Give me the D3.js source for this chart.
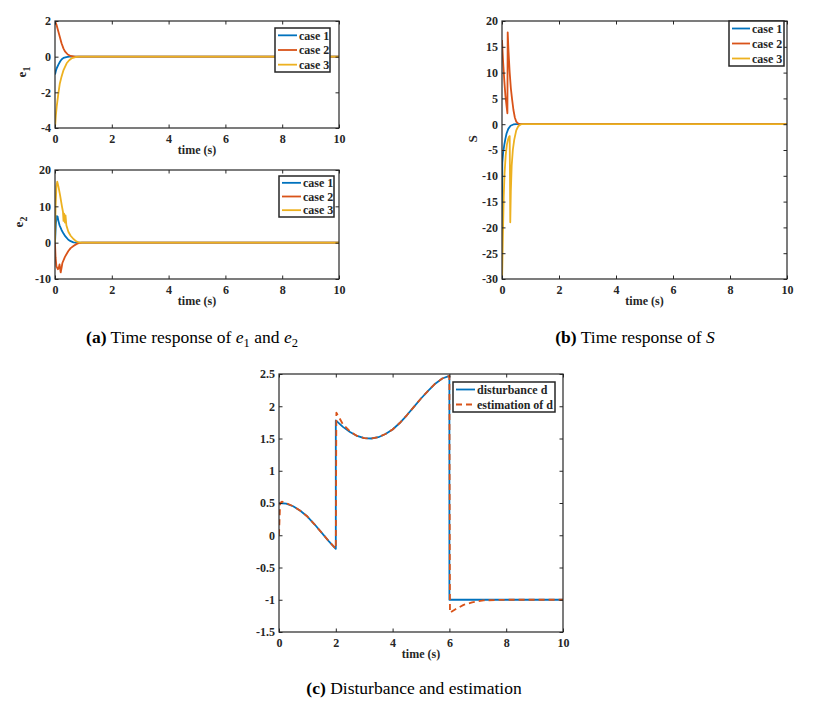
<!DOCTYPE html>
<html><head><meta charset="utf-8">
<script src="https://cdn.jsdelivr.net/npm/d3@7"></script>
<style>body{margin:0;background:#fff}svg{display:block}</style>
</head><body>
<svg id="c" width="813" height="703"></svg>
<script>
// ---------- data ----------
const xTicks = [0, 2, 4, 6, 8, 10];
const e1Ticks = [-4, -2, 0, 2];
const e2Ticks = [-10, 0, 10, 20];
const sTicks = [-30, -25, -20, -15, -10, -5, 0, 5, 10, 15, 20];
const dTicks = [-1.5, -1, -0.5, 0, 0.5, 1, 1.5, 2, 2.5];
const caseNames = ["case 1", "case 2", "case 3"];
const dNames = ["disturbance d", "estimation of d"];

const e1_case1 = [[0,-1],[0.03,-0.8],[0.06,-0.65],[0.12,-0.45],[0.18,-0.27],[0.23,-0.16],[0.3,-0.07],[0.4,-0.02],[0.5,0],[10,0]];
const e1_case2 = [[0,2],[0.05,1.8],[0.12,1.4],[0.18,1.05],[0.23,0.75],[0.3,0.45],[0.35,0.3],[0.45,0.12],[0.55,0.04],[0.7,0],[10,0]];
const e1_case3 = [[0,-4],[0.03,-3.3],[0.06,-2.8],[0.12,-2.05],[0.17,-1.5],[0.23,-1.12],[0.3,-0.75],[0.41,-0.37],[0.5,-0.2],[0.6,-0.08],[0.75,-0.01],[0.85,0],[10,0]];

const e2_case1 = [[0,0],[0.03,5],[0.06,7.3],[0.09,7.2],[0.12,6],[0.16,4.8],[0.23,3.5],[0.3,2.5],[0.36,1.8],[0.47,0.8],[0.55,0.4],[0.65,0.1],[0.75,0],[10,0]];
const e2_case2 = [[0,0],[0.02,-4],[0.05,-6.5],[0.1,-7.3],[0.13,-7],[0.16,-6],[0.2,-8.2],[0.23,-7],[0.26,-5.6],[0.35,-3.9],[0.47,-2.3],[0.55,-1.5],[0.65,-0.9],[0.75,-0.4],[0.85,-0.1],[0.95,0],[10,0]];
const e2_case3 = [[0,0],[0.02,10],[0.05,15.5],[0.08,16.8],[0.12,15.5],[0.18,13],[0.24,10.2],[0.28,8.5],[0.3,6],[0.32,8],[0.35,5.5],[0.37,7.5],[0.4,4.8],[0.47,3],[0.55,1.9],[0.65,1],[0.75,0.35],[0.85,0.05],[0.95,0],[10,0]];

const s_case1 = [[0,-26],[0.01,-7.5],[0.04,-5.5],[0.08,-4],[0.12,-2.8],[0.16,-1.8],[0.22,-0.9],[0.3,-0.3],[0.4,-0.05],[0.5,0],[10,0]];
const s_case2 = [[0,16.3],[0.04,12],[0.08,8.5],[0.12,5.5],[0.16,3.5],[0.19,2.1],[0.2,17.8],[0.23,14],[0.27,10],[0.31,7],[0.35,5],[0.4,2.8],[0.45,1.3],[0.5,0.5],[0.57,0.1],[0.65,0],[10,0]];
const s_case3 = [[0,-31],[0.03,-22],[0.06,-14],[0.09,-9.5],[0.13,-6],[0.17,-4],[0.21,-3],[0.25,-2.4],[0.27,-2.3],[0.29,-19],[0.31,-13],[0.34,-8],[0.38,-5],[0.43,-3],[0.5,-1.2],[0.57,-0.4],[0.65,-0.05],[0.72,0],[10,0]];

const d_true = [[0,0.5],[0.25,0.49],[0.5,0.45],[0.75,0.38],[1,0.29],[1.25,0.17],[1.5,0.04],[1.75,-0.09],[2,-0.21],
  [2,1.78],[2.25,1.68],[2.5,1.6],[2.75,1.54],[3,1.505],[3.25,1.5],[3.5,1.52],[3.75,1.57],[4,1.64],[4.25,1.74],[4.5,1.86],[4.75,1.99],[5,2.12],[5.25,2.24],[5.5,2.35],[5.75,2.43],[6,2.47],
  [6,-1],[10,-1]];
const d_est = [[0,0],[0.04,0.5],[0.1,0.52],[0.25,0.5],[0.5,0.45],[0.75,0.38],[1,0.29],[1.25,0.17],[1.5,0.04],[1.75,-0.09],[2,-0.21],
  [2.02,1.9],[2.1,1.84],[2.25,1.72],[2.5,1.61],[2.75,1.54],[3,1.505],[3.25,1.5],[3.5,1.52],[3.75,1.57],[4,1.64],[4.25,1.74],[4.5,1.86],[4.75,1.99],[5,2.12],[5.25,2.24],[5.5,2.35],[5.75,2.43],[6,2.47],
  [6.02,-1.2],[6.2,-1.15],[6.5,-1.08],[6.8,-1.04],[7.2,-1.01],[8,-1],[10,-1]];

// ---------- style ----------
const C = ["#0072BD", "#D95319", "#EDB120"];
const AX = "#262626";
const FONT = "'Liberation Serif','Times New Roman',serif";
const svg = d3.select("#c");
let clipId = 0;

function panel(o) {
  const x = d3.scaleLinear().domain([0, 10]).range([o.x0, o.x1]);
  const y = d3.scaleLinear().domain(o.ydom).range([o.y1, o.y0]);
  const g = svg.append("g");
  const id = "clip" + (clipId++);
  g.append("clipPath").attr("id", id).append("rect")
    .attr("x", o.x0).attr("y", o.y0).attr("width", o.x1 - o.x0).attr("height", o.y1 - o.y0);
  const line = d3.line().x(d => x(d[0])).y(d => y(d[1]));
  const lg = g.append("g").attr("clip-path", `url(#${id})`);
  o.series.forEach(s => {
    lg.append("path").attr("d", line(s.data)).attr("fill", "none")
      .attr("stroke", s.color).attr("stroke-width", 1.8)
      .attr("stroke-dasharray", s.dash || null).attr("stroke-linejoin", "round");
  });
  const tl = 3.5, fmt = d => String(d);
  const axes = [
    g.append("g").attr("transform", `translate(0,${o.y1})`).call(d3.axisBottom(x).tickValues(xTicks).tickSize(-tl).tickPadding(6).tickFormat(fmt)),
    g.append("g").attr("transform", `translate(0,${o.y0})`).call(d3.axisTop(x).tickValues(xTicks).tickSize(-tl).tickFormat("")),
    g.append("g").attr("transform", `translate(${o.x0},0)`).call(d3.axisLeft(y).tickValues(o.yticks).tickSize(-tl).tickPadding(4).tickFormat(fmt)),
    g.append("g").attr("transform", `translate(${o.x1},0)`).call(d3.axisRight(y).tickValues(o.yticks).tickSize(-tl).tickFormat(""))
  ];
  axes.forEach(a => {
    a.select(".domain").remove();
    a.selectAll(".tick line").attr("stroke", AX).attr("stroke-width", 1);
    a.selectAll(".tick text").attr("fill", AX).style("font-family", FONT)
      .style("font-size", "12px").style("font-weight", "bold");
  });
  g.append("rect").attr("x", o.x0).attr("y", o.y0).attr("width", o.x1 - o.x0).attr("height", o.y1 - o.y0)
    .attr("fill", "none").attr("stroke", AX).attr("stroke-width", 1.2);
  g.append("text").attr("x", (o.x0 + o.x1) / 2).attr("y", o.y1 + 26).attr("text-anchor", "middle")
    .style("font-family", FONT).style("font-size", "12px").style("font-weight", "bold").attr("fill", AX)
    .text("time (s)");
  if (o.ylabel) {
    const t = g.append("text").attr("transform", `translate(${o.ylabel.x},${o.ylabel.y}) rotate(-90)`)
      .attr("text-anchor", "middle").style("font-family", FONT).style("font-size", "13px")
      .style("font-weight", "bold").attr("fill", AX);
    t.append("tspan").text(o.ylabel.main);
    if (o.ylabel.sub) t.append("tspan").attr("dy", 4).style("font-size", "10px").text(o.ylabel.sub);
  }
  // legend
  const L = o.legend;
  g.append("rect").attr("x", L.x).attr("y", L.y).attr("width", L.w).attr("height", L.h)
    .attr("fill", "#fff").attr("stroke", AX).attr("stroke-width", 1.5);
  o.series.forEach((s, i) => {
    const ry = L.y + L.h * (i + 0.5) / o.series.length;
    g.append("line").attr("x1", L.x + 3).attr("x2", L.x + L.sw).attr("y1", ry).attr("y2", ry)
      .attr("stroke", s.color).attr("stroke-width", 1.8).attr("stroke-dasharray", s.dash || null);
    g.append("text").attr("x", L.x + L.sw + 2).attr("y", ry).attr("dy", "0.35em")
      .style("font-family", FONT).style("font-size", "12px").style("font-weight", "bold").attr("fill", AX)
      .text(s.name);
  });
}

panel({x0: 55, x1: 339, y0: 21, y1: 128, ydom: [-4, 2], yticks: e1Ticks,
  series: [e1_case1, e1_case2, e1_case3].map((d, i) => ({data: d, color: C[i], name: caseNames[i]})),
  legend: {x: 275, y: 28, w: 55, h: 44, sw: 22},
  ylabel: {x: 26, y: 72, main: "e", sub: "1"}});

panel({x0: 55, x1: 339, y0: 170, y1: 279, ydom: [-10, 20], yticks: e2Ticks,
  series: [e2_case1, e2_case2, e2_case3].map((d, i) => ({data: d, color: C[i], name: caseNames[i]})),
  legend: {x: 279, y: 176, w: 55, h: 41, sw: 22},
  ylabel: {x: 23, y: 222, main: "e", sub: "2"}});

panel({x0: 502, x1: 787, y0: 21, y1: 279, ydom: [-30, 20], yticks: sTicks,
  series: [s_case1, s_case2, s_case3].map((d, i) => ({data: d, color: C[i], name: caseNames[i]})),
  legend: {x: 729, y: 21, w: 55, h: 45, sw: 21},
  ylabel: {x: 477, y: 139, main: "S"}});

panel({x0: 279, x1: 563, y0: 374, y1: 632, ydom: [-1.5, 2.5], yticks: dTicks,
  series: [{data: d_true, color: C[0], name: dNames[0]}, {data: d_est, color: C[1], name: dNames[1], dash: "6,4"}],
  legend: {x: 453, y: 382, w: 102, h: 30, sw: 22}});

// captions
function caption(cx, cy, parts) {
  const t = svg.append("text").attr("x", cx).attr("y", cy).attr("text-anchor", "middle")
    .style("font-family", FONT).style("font-size", "17.5px").attr("fill", "#000");
  parts.forEach(p => {
    const s = t.append("tspan").text(p.t);
    if (p.b) s.style("font-weight", "bold");
    if (p.i) s.style("font-style", "italic");
    if (p.sub) s.attr("dy", 4).style("font-size", "12.5px");
    if (p.up) s.attr("dy", -4);
  });
}
caption(192, 343, [{t: "(a)", b: 1}, {t: " Time response of "}, {t: "e", i: 1}, {t: "1", sub: 1}, {t: " and ", up: 1}, {t: "e", i: 1}, {t: "2", sub: 1}]);
caption(635, 343, [{t: "(b)", b: 1}, {t: " Time response of "}, {t: "S", i: 1}]);
caption(414, 694, [{t: "(c)", b: 1}, {t: " Disturbance and estimation"}]);
</script>
</body></html>
